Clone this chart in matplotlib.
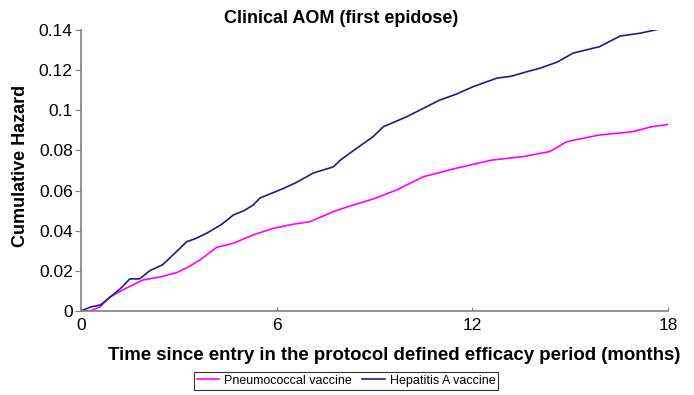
import matplotlib
matplotlib.use("Agg")
import matplotlib.pyplot as plt

plt.rcParams["font.family"] = ["Liberation Sans", "DejaVu Sans"]

# Hepatitis A vaccine (navy) - months, cumulative hazard
hep_t = [0, 0.3, 0.6, 0.9, 1.2, 1.5, 1.8, 2.1, 2.5, 2.93, 3.24, 3.5, 3.85, 4.3, 4.67, 5.0,
         5.28, 5.49, 6.2, 6.6, 7.13, 7.74, 7.94, 8.25, 8.96, 9.27, 9.99, 10.5, 11.0, 11.5,
         12.03, 12.75, 13.2, 13.67, 14.08, 14.6, 15.09, 15.9, 16.53, 17.14, 17.6, 18.06]
hep_h = [0, 0.002, 0.003, 0.007, 0.011, 0.016, 0.016, 0.020, 0.023, 0.0296, 0.0345, 0.036, 0.0387, 0.043, 0.0478, 0.050,
         0.0528, 0.0563, 0.061, 0.064, 0.0688, 0.0718, 0.075, 0.0787, 0.0869, 0.0918, 0.0968, 0.101, 0.1051, 0.108,
         0.1118, 0.116, 0.117, 0.1192, 0.121, 0.124, 0.1285, 0.1317, 0.137, 0.1384, 0.140, 0.1417]

# Pneumococcal vaccine (magenta)
pn_t = [0, 0.28, 0.58, 0.89, 1.4, 1.91, 2.42, 2.93, 3.3, 3.65, 4.16, 4.67, 5.28, 5.9, 6.5, 7.02,
        7.74, 8.25, 8.96, 9.68, 10.5, 11.5, 12.6, 13.55, 14.37, 14.9, 15.9, 16.9, 17.5, 18.1]
pn_h = [0, 0, 0.002, 0.007, 0.0115, 0.0155, 0.0169, 0.0191, 0.022, 0.0254, 0.0317, 0.0337, 0.0379, 0.0412, 0.0432, 0.0445,
        0.0495, 0.0523, 0.0558, 0.0603, 0.0669, 0.0711, 0.0752, 0.0769, 0.0794, 0.0844, 0.0877, 0.0893, 0.0918, 0.0932]

x_ticks = [0, 6, 12, 18]
y_ticks = [0, 0.02, 0.04, 0.06, 0.08, 0.1, 0.12, 0.14]
y_tick_labels = ["0", "0.02", "0.04", "0.06", "0.08", "0.1", "0.12", "0.14"]

fig = plt.figure(figsize=(6.94, 3.95), dpi=100)
ax = fig.add_axes([0.1167, 0.2127, 0.8458, 0.7113])

ax.plot(pn_t, pn_h, color="#ff00ff", linewidth=1.2, label="Pneumococcal vaccine")
ax.plot(hep_t, hep_h, color="#1c1c8a", linewidth=1.2, label="Hepatitis A vaccine")

ax.set_xlim(0, 18)
ax.set_ylim(0, 0.14)
ax.set_xticks(x_ticks)
ax.set_yticks(y_ticks)
ax.set_yticklabels(y_tick_labels)

for s in ("top", "right"):
    ax.spines[s].set_visible(False)
for s in ("left", "bottom"):
    ax.spines[s].set_color("#808080")
    ax.spines[s].set_linewidth(1.2)
ax.tick_params(axis="y", direction="out", length=4, color="#808080", labelsize=12.5, pad=2)
ax.tick_params(axis="x", direction="in", length=3, color="#808080", labelsize=12.5, pad=5)

fig.text(0.491, 0.954, "Clinical AOM (first epidose)", ha="center", va="center",
         fontsize=13, fontweight="bold")
fig.text(0.029, 0.58, "Cumulative Hazard", ha="center", va="center", rotation=90,
         fontsize=13, fontweight="bold")
fig.text(0.568, 0.099, "Time since entry in the protocol defined efficacy period (months)",
         ha="center", va="center", fontsize=13.4, fontweight="bold")

leg = fig.legend(loc="center", bbox_to_anchor=(0.4985, 0.036), ncol=2, fontsize=9,
                 frameon=True, fancybox=False, edgecolor="black", handlelength=1.8,
                 columnspacing=0.8, borderpad=0.25, handletextpad=0.4)
leg.get_frame().set_linewidth(0.8)

fig.savefig("out.png", dpi=100, facecolor="white")
